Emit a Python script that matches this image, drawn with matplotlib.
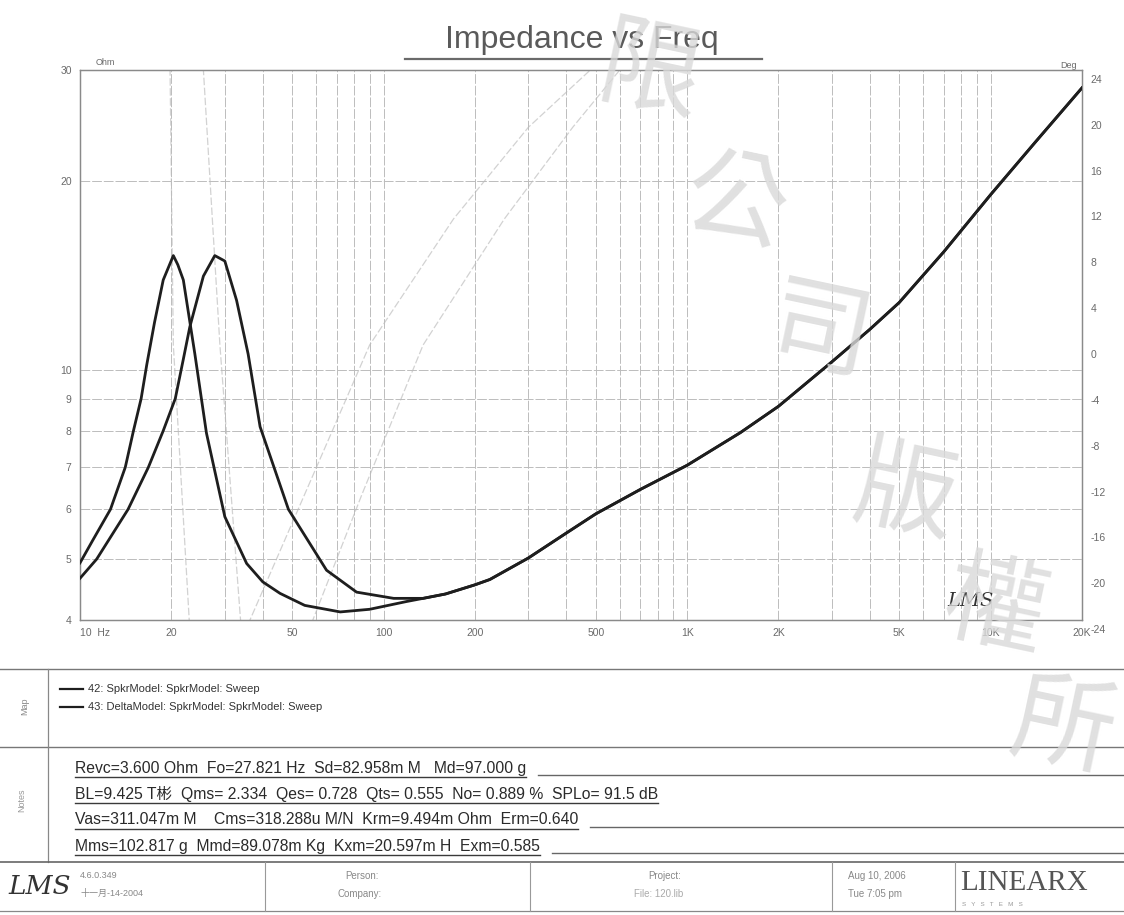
"""
LMS impedance sweep printout — two speaker models, impedance vs frequency.
"""
import matplotlib
matplotlib.use("Agg")
import matplotlib.pyplot as plt
from matplotlib.lines import Line2D
from matplotlib.transforms import ScaledTranslation

W_PX, H_PX = 1124, 915

# ---- impedance readings (Hz, Ohm) ----
# 42: SpkrModel  (resonance ~20 Hz)
FREQ_A = [10, 11, 12.6, 14.1, 15.0, 15.9, 16.6, 17.6, 18.8, 20.3, 21.0, 21.9,
          23.9, 26.1, 30.0, 35.4, 40, 45.6, 55, 72, 90, 119]
OHM_A = [4.93, 5.35, 6.0, 7.0, 8.0, 9.0, 10.2, 11.9, 13.9, 15.2, 14.7, 13.9,
         10.6, 7.93, 5.84, 4.92, 4.6, 4.41, 4.22, 4.12, 4.16, 4.28]
# 43: DeltaModel  (resonance ~27.8 Hz)
FREQ_B = [10, 11.35, 14.4, 16.8, 18.8, 20.6, 21.9, 23.0, 25.5, 27.8, 30.0,
          32.8, 35.8, 39.2, 48.6, 64.9, 81.5, 108]
OHM_B = [4.66, 5.0, 6.0, 7.0, 8.0, 9.0, 10.4, 11.7, 14.1, 15.2, 14.9,
         12.9, 10.6, 8.12, 6.0, 4.80, 4.43, 4.33]
# both models above ~135 Hz
FREQ_HI = [135, 160, 200, 224, 300, 400, 500, 700, 1000, 1500, 2000, 3000,
           4000, 5000, 7000, 10000, 14000, 20000]
OHM_HI = [4.33, 4.40, 4.55, 4.64, 5.02, 5.5, 5.9, 6.45, 7.05, 7.95, 8.75, 10.3,
          11.6, 12.8, 15.4, 19.0, 23.0, 28.1]

# ---- faint phase traces (Hz, deg), off-scale parts clipped ----
PHASE_A_F = [15, 19.8, 20.3, 22.9, 26, 36.3, 53, 90, 170, 300, 480, 800]
PHASE_A_DEG = [45, 24, 0, -24, -40, -24, -14, 0, 11, 19, 24, 30]
PHASE_B_F = [18, 25.5, 28.9, 33.8, 40, 58.5, 85, 135, 250, 420, 600, 1000]
PHASE_B_DEG = [45, 24, 0, -24, -38, -24, -13, 0, 11, 19, 24, 30]

OHM_TICKS = [4, 5, 6, 7, 8, 9, 10, 20, 30]
FREQ_TICKS = [10, 20, 50, 100, 200, 500, 1000, 2000, 5000, 10000, 20000]
FREQ_LABELS = ["10  Hz", "20", "50", "100", "200", "500", "1K", "2K", "5K",
               "10K", "20K"]
DEG_TICKS = list(range(-24, 25, 4))

LEGEND = ["42: SpkrModel: SpkrModel: Sweep",
          "43: DeltaModel: SpkrModel: SpkrModel: Sweep"]
NOTES = [
    "Revc=3.600 Ohm  Fo=27.821 Hz  Sd=82.958m M   Md=97.000 g",
    "BL=9.425 T彬  Qms= 2.334  Qes= 0.728  Qts= 0.555  No= 0.889 %  SPLo= 91.5 dB",
    "Vas=311.047m M    Cms=318.288u M/N  Krm=9.494m Ohm  Erm=0.640",
    "Mms=102.817 g  Mmd=89.078m Kg  Kxm=20.597m H  Exm=0.585",
]
WATERMARK = ["限", "公", "司", "版", "權", "所"]

FONT = ["Liberation Sans", "Noto Sans CJK TC", "DejaVu Sans"]
plt.rcParams["font.family"] = FONT
GRID = "#bcbcbc"
TXT = "#6a6a6a"
INK = "#1e1e1e"


def fx(x):
    return x / W_PX


def fy(y):
    return 1 - y / H_PX


def hline(fig, x0, x1, y, **kw):
    kw.setdefault("color", "#555")
    kw.setdefault("lw", 1.0)
    fig.add_artist(Line2D([fx(x0), fx(x1)], [fy(y), fy(y)],
                          transform=fig.transFigure, **kw))


def vline(fig, x, y0, y1, **kw):
    kw.setdefault("color", "#555")
    kw.setdefault("lw", 1.0)
    fig.add_artist(Line2D([fx(x), fx(x)], [fy(y0), fy(y1)],
                          transform=fig.transFigure, **kw))


fig = plt.figure(figsize=(W_PX / 100, H_PX / 100), dpi=100)
fig.patch.set_facecolor("white")

# ---------------- plot area ----------------
ax = fig.add_axes([fx(80), fy(620), fx(1082) - fx(80), fy(70) - fy(620)])
ax.set_xscale("log")
ax.set_yscale("log")
ax.set_xlim(10, 20000)
ax.set_ylim(4, 30)

ax2 = ax.twinx()
ax2.set_ylim(-24, 24)
ax2.plot(PHASE_A_F, PHASE_A_DEG, color="#d2d2d2", lw=0.9, ls=(0, (6, 2)))
ax2.plot(PHASE_B_F, PHASE_B_DEG, color="#d2d2d2", lw=0.9, ls=(0, (6, 2)))

ax.plot(FREQ_A + FREQ_HI, OHM_A + OHM_HI, color=INK, lw=2.0, zorder=5)
ax.plot(FREQ_B + FREQ_HI, OHM_B + OHM_HI, color=INK, lw=2.0, zorder=5)
ax.set_zorder(ax2.get_zorder() + 1)
ax.patch.set_visible(False)

ax.set_yticks(OHM_TICKS)
ax.set_yticklabels([str(v) for v in OHM_TICKS])
ax.yaxis.set_minor_locator(matplotlib.ticker.NullLocator())
ax.set_xticks(FREQ_TICKS)
xlabels = ax.set_xticklabels(FREQ_LABELS)
xlabels[0].set_ha("left")
ax.xaxis.set_minor_locator(matplotlib.ticker.LogLocator(base=10, subs=range(2, 10)))
ax.xaxis.set_minor_formatter(matplotlib.ticker.NullFormatter())
ax.tick_params(which="both", length=0, labelsize=7.5, labelcolor=TXT, pad=6)
ax.grid(True, which="both", color=GRID, lw=0.7, ls=(0, (10, 2)))

ax2.set_yticks(DEG_TICKS)
ax2.set_yticklabels([str(v) for v in DEG_TICKS])
ax2.tick_params(length=0, labelsize=7.5, labelcolor=TXT, pad=6)
for lab in ax2.get_yticklabels():
    lab.set_transform(lab.get_transform() + ScaledTranslation(0, -0.09, fig.dpi_scale_trans))

for a in (ax, ax2):
    for s in a.spines.values():
        s.set_color("#8a8a8a")
        s.set_linewidth(0.9)

ax.text(0.016, 1.005, "Ohm", transform=ax.transAxes, fontsize=6.5, color=TXT,
        va="bottom")
ax.text(0.978, 1.0, "Deg", transform=ax.transAxes, fontsize=6.5, color=TXT,
        va="bottom", ha="left")
ax.text(0.866, 0.025, "LMS", transform=ax.transAxes, fontsize=14, color="#333",
        style="italic", family="DejaVu Serif", zorder=6)

# title
fig.text(fx(582), fy(40), "Impedance vs Freq", ha="center", va="center",
         fontsize=23, color="#5a5a5a")
hline(fig, 405, 762, 59, color="#6a6a6a", lw=1.6)

# ---------------- map / legend box ----------------
hline(fig, 0, 1124, 669, color="#777", lw=1.0)
hline(fig, 0, 1124, 747, color="#777", lw=1.0)
vline(fig, 48, 669, 862, color="#888", lw=0.9)
fig.text(fx(25), fy(706), "Map", rotation=90, ha="center", va="center",
         fontsize=6.5, color="#888")
for i, name in enumerate(LEGEND):
    y = 689 + i * 18
    hline(fig, 60, 83, y, color=INK, lw=1.6)
    fig.text(fx(88), fy(y), name, ha="left", va="center", fontsize=8, color="#333")

# ---------------- notes ----------------
fig.text(fx(22), fy(800), "Notes", rotation=90, ha="center", va="center",
         fontsize=6.5, color="#999")
note_y = [768, 794, 820, 846]
note_txt = []
for y, line in zip(note_y, NOTES):
    note_txt.append(fig.text(fx(75), fy(y), line, ha="left", va="center",
                             fontsize=11.3, color="#2a2a2a"))
fig.canvas.draw()
renderer = fig.canvas.get_renderer()
for i, (y, t) in enumerate(zip(note_y, note_txt)):
    x_end = t.get_window_extent(renderer).x1
    hline(fig, 75, x_end, y + 9, color="#3a3a3a", lw=1.0)
    if i != 1:
        hline(fig, x_end + 12, 1124, y + 7, color="#666", lw=1.0)

# ---------------- footer ----------------
hline(fig, 0, 1124, 862, color="#666", lw=1.2)
hline(fig, 0, 1124, 911, color="#888", lw=0.9)
for x in (265, 530, 832, 955):
    vline(fig, x, 862, 911, color="#999", lw=0.8)
fig.text(fx(8), fy(886), "LMS", fontsize=19, style="italic", family="DejaVu Serif",
         color="#333", va="center")
fig.text(fx(80), fy(876), "4.6.0.349", fontsize=6.5, color="#888", va="center")
fig.text(fx(80), fy(893), "十一月-14-2004", fontsize=6.5, color="#888", va="center")
fig.text(fx(345), fy(876), "Person:", fontsize=7, color="#888", va="center")
fig.text(fx(338), fy(894), "Company:", fontsize=7, color="#888", va="center")
fig.text(fx(648), fy(876), "Project:", fontsize=7, color="#888", va="center")
fig.text(fx(634), fy(894), "File: 120.lib", fontsize=7, color="#aaa", va="center")
fig.text(fx(848), fy(876), "Aug 10, 2006", fontsize=7, color="#888", va="center")
fig.text(fx(848), fy(894), "Tue 7:05 pm", fontsize=7, color="#888", va="center")
fig.text(fx(960), fy(883), "LINEARX", fontsize=21, family="Liberation Serif",
         color="#555", va="center")
fig.text(fx(962), fy(905), "S   Y   S   T   E   M   S", fontsize=4.5,
         color="#999", va="center")

# ---------------- watermark ----------------
wm_xy = [(650, 75), (735, 205), (820, 335), (905, 495), (995, 610), (1062, 730)]
for ch, (x, y) in zip(WATERMARK, wm_xy):
    fig.text(fx(x), fy(y), ch, ha="center", va="center", fontsize=74,
             family=["Noto Sans CJK TC", "DejaVu Sans"], color="#d9d9d9",
             alpha=0.8, rotation=-12, zorder=20)

fig.savefig("out.png", dpi=100, facecolor="white")
